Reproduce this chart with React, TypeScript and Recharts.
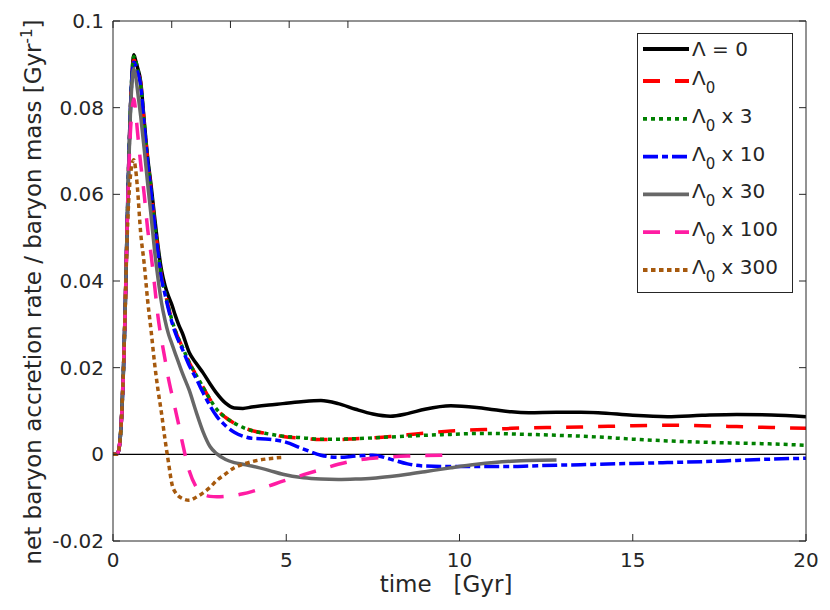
import { Legend, Line, LineChart, ReferenceLine, XAxis, YAxis } from "recharts";

// time grid in Gyr (shared by all runs)
const TIME = [
  0, 0.1, 0.15, 0.2, 0.25, 0.3, 0.35, 0.4, 0.45, 0.5,
  0.55, 0.6, 0.65, 0.7, 0.8, 0.9, 1.0, 1.1, 1.2, 1.3,
  1.4, 1.5, 1.6, 1.7, 1.8, 1.9, 2.0, 2.2, 2.4, 2.6,
  2.8, 3.0, 3.25, 3.5, 3.75, 4.0, 4.5, 4.9, 5.5, 6,
  6.5, 7, 7.5, 8, 8.5, 9, 9.75, 10.5, 11, 11.5,
  12, 12.8, 13.5, 14, 15, 16, 17, 18, 19, 20,
];

// net baryon accretion rate / baryon mass [1/Gyr]
const LAMBDA_NONE = [
  0, 0, 0.0005, 0.003, 0.009, 0.019, 0.033, 0.05, 0.066, 0.079,
  0.088, 0.0922, 0.091, 0.0895, 0.086, 0.077, 0.0685, 0.062, 0.0548, 0.048,
  0.0425, 0.039, 0.0365, 0.0345, 0.032, 0.0298, 0.028, 0.0235, 0.021, 0.0188,
  0.0163, 0.014, 0.0118, 0.0107, 0.0106, 0.0109, 0.0114, 0.0117, 0.0122, 0.0124,
  0.0117, 0.0104, 0.0093, 0.0088, 0.0094, 0.0104, 0.0112, 0.0108, 0.0103, 0.0098,
  0.0096, 0.0097, 0.0097, 0.0096, 0.009, 0.0087, 0.009, 0.0092, 0.0091, 0.0087,
];
const LAMBDA_X1 = [
  0, 0, 0.0005, 0.003, 0.009, 0.019, 0.033, 0.05, 0.066, 0.079,
  0.0875, 0.091, 0.0905, 0.089, 0.0855, 0.0765, 0.068, 0.061, 0.0535, 0.047,
  0.041, 0.0375, 0.034, 0.031, 0.0285, 0.0265, 0.0248, 0.0212, 0.0183, 0.0155,
  0.0127, 0.0103, 0.0085, 0.0072, 0.0062, 0.0055, 0.0047, 0.0041, 0.0037, 0.0034,
  0.0034, 0.0036, 0.0038, 0.0041, 0.0045, 0.0049, 0.0054, 0.0057, 0.0058, 0.006,
  0.0061, 0.0062, 0.0063, 0.0064, 0.0066, 0.0067, 0.0066, 0.0064, 0.0062, 0.006,
];
const LAMBDA_X3 = [
  0, 0, 0.0005, 0.003, 0.009, 0.019, 0.033, 0.05, 0.066, 0.079,
  0.088, 0.0918, 0.091, 0.0893, 0.0855, 0.0765, 0.068, 0.061, 0.0535, 0.047,
  0.041, 0.0375, 0.034, 0.031, 0.0285, 0.0265, 0.0248, 0.0212, 0.0183, 0.0155,
  0.0127, 0.0103, 0.0085, 0.0072, 0.0062, 0.0055, 0.0047, 0.0042, 0.0038, 0.0035,
  0.0035, 0.0036, 0.0038, 0.004, 0.0042, 0.0044, 0.0046, 0.0048, 0.0048, 0.0047,
  0.0046, 0.0044, 0.0042, 0.004, 0.0035, 0.0031, 0.0028, 0.0026, 0.0024, 0.0021,
];
const LAMBDA_X10 = [
  0, 0, 0.0005, 0.003, 0.009, 0.019, 0.033, 0.05, 0.066, 0.079,
  0.0875, 0.0905, 0.0898, 0.0885, 0.085, 0.076, 0.0675, 0.0605, 0.053, 0.0465,
  0.0405, 0.037, 0.0335, 0.0305, 0.028, 0.026, 0.0243, 0.0205, 0.0175, 0.0142,
  0.0112, 0.0087, 0.0066, 0.0051, 0.0042, 0.0037, 0.0035, 0.003, 0.0012, -0.0002,
  -0.0007, -0.0004, -0.0002, -0.0011, -0.0022, -0.0027, -0.0028, -0.0028, -0.0028, -0.0028,
  -0.0027, -0.0025, -0.0024, -0.0023, -0.0021, -0.0019, -0.0017, -0.0014, -0.0011, -0.0009,
];
const LAMBDA_X30 = [
  0, 0, 0.0005, 0.003, 0.009, 0.019, 0.033, 0.05, 0.065, 0.078,
  0.086, 0.089, 0.0875, 0.0845, 0.078, 0.0705, 0.0625, 0.055, 0.047, 0.0405,
  0.035, 0.031, 0.0278, 0.0255, 0.0232, 0.021, 0.0188, 0.0148, 0.0098, 0.0052,
  0.0018, 0.0001, -0.0012, -0.0019, -0.0023, -0.0027, -0.0037, -0.0046, -0.0054, -0.0057,
  -0.0058, -0.0057, -0.0055, -0.0051, -0.0046, -0.004, -0.0031, -0.0023, -0.0019, -0.0016,
  -0.0014, -0.0013, null, null, null, null, null, null, null, null,
];
const LAMBDA_X100 = [
  0, 0, 0.0005, 0.003, 0.009, 0.019, 0.033, 0.05, 0.064, 0.074,
  0.0795, 0.082, 0.0795, 0.075, 0.067, 0.06, 0.052, 0.046, 0.039, 0.0317,
  0.0265, 0.022, 0.0175, 0.0138, 0.0103, 0.0067, 0.0028, -0.0038, -0.0075, -0.0091,
  -0.0097, -0.0098, -0.0097, -0.0095, -0.0091, -0.0086, -0.0073, -0.0062, -0.0047, -0.0035,
  -0.0023, -0.0014, -0.0009, -0.0006, -0.0004, -0.0003, -0.0002, null, null, null,
  null, null, null, null, null, null, null, null, null, null,
];
const LAMBDA_X300 = [
  0, 0, 0.0005, 0.003, 0.009, 0.019, 0.033, 0.048, 0.058, 0.064,
  0.067, 0.068, 0.066, 0.062, 0.051, 0.044, 0.0355, 0.0285, 0.021, 0.0148,
  0.0095, 0.0035, -0.0018, -0.0068, -0.0088, -0.0097, -0.0102, -0.0106, -0.0099, -0.0089,
  -0.0076, -0.006, -0.0045, -0.0031, -0.0023, -0.0017, -0.001, -0.0007, null, null,
  null, null, null, null, null, null, null, null, null, null,
  null, null, null, null, null, null, null, null, null, null,
];

const X_TICKS = [0, 5, 10, 15, 20];
const Y_TICKS = [-0.02, 0, 0.02, 0.04, 0.06, 0.08, 0.1];

const SERIES = [
  { key: "none", values: LAMBDA_NONE, head: "Λ = 0", sub: "", tail: "", color: "#000000", dash: undefined },
  { key: "x1", values: LAMBDA_X1, head: "Λ", sub: "0", tail: "", color: "#ff0000", dash: "17 15" },
  { key: "x3", values: LAMBDA_X3, head: "Λ", sub: "0", tail: " x 3", color: "#008000", dash: "4 4" },
  { key: "x10", values: LAMBDA_X10, head: "Λ", sub: "0", tail: " x 10", color: "#0000ff", dash: "15 4 6 4" },
  { key: "x30", values: LAMBDA_X30, head: "Λ", sub: "0", tail: " x 30", color: "#676767", dash: undefined },
  { key: "x100", values: LAMBDA_X100, head: "Λ", sub: "0", tail: " x 100", color: "#ff1ca3", dash: "17 15" },
  { key: "x300", values: LAMBDA_X300, head: "Λ", sub: "0", tail: " x 300", color: "#a6590d", dash: "4.5 3.5" },
];

const data = TIME.map((t, i) => {
  const row: Record<string, number | null> = { t };
  SERIES.forEach((s) => {
    row[s.key] = s.values[i] ?? null;
  });
  return row;
});

const FONT = "'DejaVu Sans', sans-serif";
const AXIS = "#262626";
// plot frame (matlab style box, ticks pointing inwards)
const BOX = { left: 113, right: 806, top: 21, bottom: 541 };
const TICK_LEN = 7;

const BottomTick = (p: any) => (
  <g>
    <line x1={p.x} x2={p.x} y1={BOX.bottom} y2={BOX.bottom - TICK_LEN} stroke={AXIS} />
    <text x={p.x} y={567} textAnchor="middle" fontSize={20} fontFamily={FONT} fill={AXIS}>
      {p.payload.value}
    </text>
  </g>
);
const TopTick = (p: any) => (
  <line x1={p.x} x2={p.x} y1={BOX.top} y2={BOX.top + TICK_LEN} stroke={AXIS} />
);
const LeftTick = (p: any) => (
  <g>
    <line x1={BOX.left} x2={BOX.left + TICK_LEN} y1={p.y} y2={p.y} stroke={AXIS} />
    <text x={104} y={p.y + 7} textAnchor="end" fontSize={20} fontFamily={FONT} fill={AXIS}>
      {String(p.payload.value)}
    </text>
  </g>
);
const RightTick = (p: any) => (
  <line x1={BOX.right} x2={BOX.right - TICK_LEN} y1={p.y} y2={p.y} stroke={AXIS} />
);

function LegendBox() {
  return (
    <div style={{ width: 156, height: 260, border: `1px solid ${AXIS}`, background: "#fff", boxSizing: "border-box" }}>
      <svg width={154} height={258} style={{ display: "block" }}>
        {SERIES.map((s, i) => {
          const y = i === 0 ? 15 : 47 + (i - 1) * 37.8;
          return (
            <g key={s.key}>
              <line x1={5} x2={51} y1={y} y2={y} stroke={s.color} strokeWidth={3.8} strokeDasharray={s.dash} />
              {s.sub ? (
                <text x={54} y={y + 4} fontSize={20} fontFamily={FONT} fill={AXIS} style={{ whiteSpace: "pre" }}>
                  {s.head}
                  <tspan dy={8} fontSize={15}>{s.sub}</tspan>
                  <tspan dy={-8}>{s.tail}</tspan>
                </text>
              ) : (
                <text x={54} y={y + 7} fontSize={20} fontFamily={FONT} fill={AXIS} style={{ whiteSpace: "pre" }}>
                  {s.head}
                </text>
              )}
            </g>
          );
        })}
      </svg>
    </div>
  );
}

export default function App() {
  return (
    <div style={{ position: "absolute", left: 0, top: 0, width: 830, height: 610, background: "#fff" }}>
      <LineChart width={830} height={610} data={data} margin={{ top: 20, right: 23, bottom: 0, left: 0 }}>
        <XAxis
          dataKey="t"
          type="number"
          domain={[0, 20]}
          ticks={X_TICKS}
          interval={0}
          height={69}
          tickLine={false}
          tick={BottomTick}
          stroke={AXIS}
          allowDataOverflow
        />
        <XAxis
          xAxisId="top"
          orientation="top"
          type="number"
          domain={[0, 20]}
          ticks={X_TICKS}
          interval={0}
          height={1}
          tickLine={false}
          tick={TopTick}
          stroke={AXIS}
          allowDataOverflow
        />
        <YAxis
          type="number"
          domain={[-0.02, 0.1]}
          ticks={Y_TICKS}
          interval={0}
          width={113}
          tickLine={false}
          tick={LeftTick}
          stroke={AXIS}
          allowDataOverflow
          label={{
            content: () => (
              <text
                transform="translate(41, 292) rotate(-90)"
                textAnchor="middle"
                fontSize={23}
                fontFamily={FONT}
                fill={AXIS}
              >
                net baryon accretion rate / baryon mass [Gyr
                <tspan dy={-9} fontSize={15}>-1</tspan>
                <tspan dy={9}>]</tspan>
              </text>
            ),
          }}
        />
        <YAxis
          yAxisId="right"
          orientation="right"
          type="number"
          domain={[-0.02, 0.1]}
          ticks={Y_TICKS}
          interval={0}
          width={1}
          tickLine={false}
          tick={RightTick}
          stroke={AXIS}
          allowDataOverflow
        />
        <ReferenceLine y={0} stroke="#000" strokeWidth={1.3} />
        {SERIES.map((s) => (
          <Line
            key={s.key}
            dataKey={s.key}
            type="monotone"
            stroke={s.color}
            strokeWidth={3.5}
            strokeDasharray={s.dash}
            dot={false}
            activeDot={false}
            connectNulls={false}
            isAnimationActive={false}
          />
        ))}
        <Legend
          layout="vertical"
          align="center"
          verticalAlign="middle"
          wrapperStyle={{ left: 637, top: 33, width: 156, height: 260 }}
          content={() => <LegendBox />}
        />
      </LineChart>
      <svg width={830} height={610} style={{ position: "absolute", left: 0, top: 0, pointerEvents: "none" }}>
        <text x={446} y={592} textAnchor="middle" fontSize={23} fontFamily={FONT} fill={AXIS} style={{ whiteSpace: "pre" }}>
          time   [Gyr]
        </text>
      </svg>
    </div>
  );
}
